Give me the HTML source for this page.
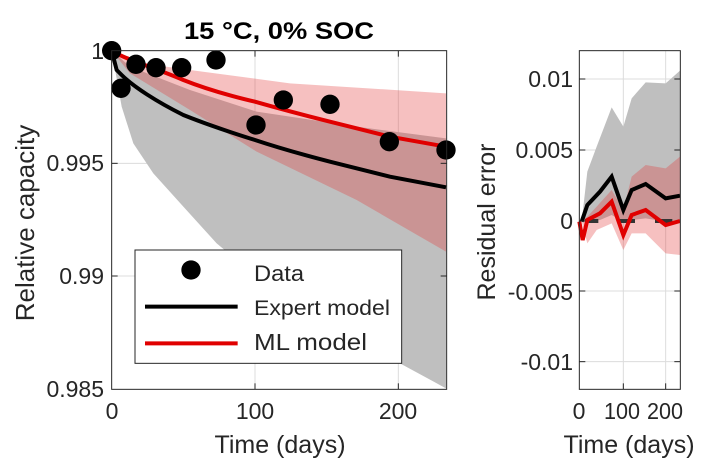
<!DOCTYPE html><html><head><style>body{margin:0;background:#fff}svg{display:block}text{font-family:"Liberation Sans",sans-serif;fill:#262626}</style></head><body>
<svg width="715" height="471" viewBox="0 0 715 471">
<g transform="translate(90,30) scale(0.33333)">
<g stroke="#dcdcdc" stroke-width="3"><line x1="495" y1="62" x2="495" y2="1078"/><line x1="925" y1="62" x2="925" y2="1078"/><line x1="65" y1="400" x2="1070" y2="400"/><line x1="65" y1="738" x2="1070" y2="738"/></g>
<path d="M65,62 L95,230 L130,340 L190,430 L280,530 L380,640 L500,740 L700,870 L930,1000 L1068,1075 L1068,325 L800,290 L500,245 L300,180 L120,110 Z" fill="#bfbfbf"/>
<path d="M65,62 L120,95 L300,120 L600,160 L1068,190 L1068,665 L800,510 L500,365 L300,240 L120,130 Z" fill="#e43a3a" fill-opacity="0.32"/>
<path d="M65,62 L80,120 L95,135 C130,170 200,215 280,255 C380,295 495,330 495,330 C600,365 720,395 720,395 C820,420 900,440 900,440 L1068,472" fill="none" stroke="#000" stroke-width="12"/>
<path d="M65,62 C110,90 200,115 280,150 C380,190 495,215 495,215 C600,245 720,275 720,275 C820,300 900,320 900,320 L1068,350" fill="none" stroke="#e00000" stroke-width="12"/>
<g fill="#000"><circle cx="65" cy="62" r="29"/><circle cx="93" cy="175" r="29"/><circle cx="138" cy="103" r="29"/><circle cx="198" cy="113" r="29"/><circle cx="275" cy="113" r="29"/><circle cx="378" cy="90" r="29"/><circle cx="498" cy="285" r="29"/><circle cx="580" cy="210" r="29"/><circle cx="720" cy="223" r="29"/><circle cx="898" cy="335" r="29"/><circle cx="1068" cy="360" r="29"/></g>
<rect x="65" y="62" width="1005" height="1016" fill="none" stroke="#262626" stroke-width="3"/>
<g stroke="#262626" stroke-width="3"><line x1="495" y1="1078" x2="495" y2="1060"/><line x1="925" y1="1078" x2="925" y2="1060"/><line x1="495" y1="62" x2="495" y2="80"/><line x1="925" y1="62" x2="925" y2="80"/><line x1="65" y1="400" x2="83" y2="400"/><line x1="65" y1="738" x2="83" y2="738"/><line x1="1070" y1="400" x2="1052" y2="400"/><line x1="1070" y1="738" x2="1052" y2="738"/></g>
<rect x="135" y="660" width="800" height="340" fill="#fff" stroke="#262626" stroke-width="3"/>
<circle cx="303" cy="720" r="29" fill="#000"/>
<line x1="165" y1="830" x2="443" y2="830" stroke="#000" stroke-width="12"/>
<line x1="165" y1="940" x2="443" y2="940" stroke="#e00000" stroke-width="12"/>
</g>
<g transform="translate(500,30) scale(0.33333)">
<g stroke="#dcdcdc" stroke-width="3"><line x1="370" y1="62" x2="370" y2="1078"/><line x1="497" y1="62" x2="497" y2="1078"/><line x1="238" y1="147" x2="541" y2="147"/><line x1="238" y1="360" x2="541" y2="360"/><line x1="238" y1="783" x2="541" y2="783"/><line x1="238" y1="995" x2="541" y2="995"/></g>
<path d="M245,575 L262,425 L290,350 L335,232 L370,290 L395,205 L437,157 L497,160 L540,122 L540,575 L497,575 L437,565 L395,570 L370,575 L335,555 L300,570 Z" fill="#bfbfbf"/>
<path d="M245,575 L262,560 L290,530 L335,480 L370,540 L395,440 L437,405 L497,415 L540,380 L540,675 L497,670 L437,610 L395,610 L370,660 L335,580 L290,600 L262,640 Z" fill="#e43a3a" fill-opacity="0.32"/>
<g stroke="#333" stroke-width="12"><line x1="255" y1="573" x2="295" y2="573"/><line x1="355" y1="573" x2="405" y2="573"/><line x1="465" y1="573" x2="517" y2="573"/></g>
<path d="M245,575 L262,525 L300,485 L335,440 L370,540 L395,480 L437,462 L497,505 L540,497" fill="none" stroke="#000" stroke-width="12"/>
<path d="M238,575 L248,630 L262,570 L300,550 L335,515 L370,615 L395,555 L437,540 L497,585 L540,573" fill="none" stroke="#e00000" stroke-width="12"/>
<rect x="238" y="62" width="303" height="1016" fill="none" stroke="#262626" stroke-width="3"/>
<g stroke="#262626" stroke-width="3"><line x1="238" y1="147" x2="256" y2="147"/><line x1="238" y1="360" x2="256" y2="360"/><line x1="238" y1="573" x2="256" y2="573"/><line x1="238" y1="783" x2="256" y2="783"/><line x1="238" y1="995" x2="256" y2="995"/><line x1="541" y1="147" x2="523" y2="147"/><line x1="541" y1="360" x2="523" y2="360"/><line x1="541" y1="783" x2="523" y2="783"/><line x1="541" y1="995" x2="523" y2="995"/><line x1="370" y1="1078" x2="370" y2="1060"/><line x1="497" y1="1078" x2="497" y2="1060"/></g>
</g>
<text x="279" y="39" font-size="24" font-weight="bold" text-anchor="middle" textLength="190" lengthAdjust="spacingAndGlyphs" style="fill:#000">15 °C, 0% SOC</text>
<g font-size="23" text-anchor="end"><text x="104" y="59">1</text><text x="104" y="171">0.995</text><text x="104" y="284">0.99</text><text x="104" y="397">0.985</text>
<text x="573" y="87">0.01</text><text x="573" y="158">0.005</text><text x="573" y="229">0</text><text x="573" y="300">-0.005</text><text x="573" y="370">-0.01</text></g>
<g font-size="23" text-anchor="middle"><text x="112" y="419">0</text><text x="255" y="419">100</text><text x="398" y="419">200</text>
<text x="579" y="419">0</text><text x="622" y="419" textLength="36" lengthAdjust="spacingAndGlyphs">100</text><text x="665" y="419" textLength="36" lengthAdjust="spacingAndGlyphs">200</text></g>
<g font-size="25" text-anchor="middle"><text x="280" y="453">Time (days)</text><text x="629" y="453">Time (days)</text></g>
<text transform="translate(34,223) rotate(-90)" font-size="26" text-anchor="middle">Relative capacity</text>
<text transform="translate(495,222) rotate(-90)" font-size="25" text-anchor="middle">Residual error</text>
<g style="fill:#000"><text x="254" y="281" font-size="22" textLength="50" lengthAdjust="spacingAndGlyphs">Data</text><text x="254" y="315" font-size="21" textLength="136" lengthAdjust="spacingAndGlyphs">Expert model</text><text x="254" y="350" font-size="23" textLength="113" lengthAdjust="spacingAndGlyphs">ML model</text></g>
</svg></body></html>
